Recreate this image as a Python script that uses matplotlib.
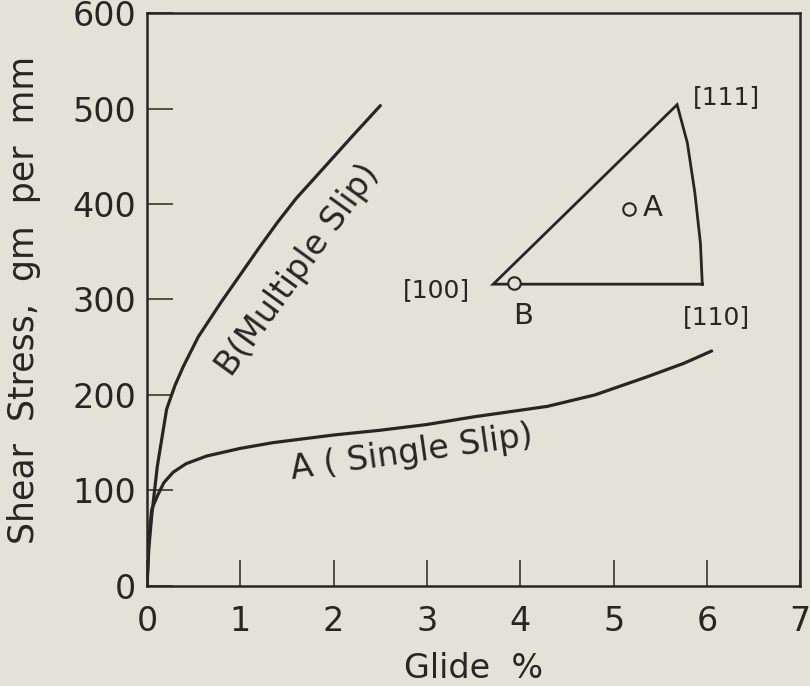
import matplotlib.pyplot as plt

# Stress-strain curves (glide %, shear stress gm/mm)
glide_a = [0.0, 0.02, 0.05, 0.11, 0.18, 0.28, 0.42, 0.64, 1.0, 1.35, 2.0, 2.5, 3.0, 3.5, 4.29, 4.8, 5.36, 5.75, 6.05]
stress_a = [0, 50, 80, 94, 108, 119, 128, 136, 144, 150, 158, 163, 169, 177, 188, 200, 219, 233, 246]

glide_b = [0.0, 0.02, 0.05, 0.11, 0.21, 0.3, 0.39, 0.55, 0.8, 1.0, 1.2, 1.4, 1.6, 1.85, 2.2, 2.5]
stress_b = [0, 40, 73, 125, 185, 210, 230, 261, 298, 326, 354, 381, 406, 433, 471, 503]

# Stereographic triangle inset, drawn in data coordinates
tri_x = [5.95, 3.71, 5.68, 5.79, 5.87, 5.93, 5.95]
tri_y = [316, 316, 504, 464, 412, 359, 316]
orient_x = [5.16, 3.93]
orient_y = [395, 317]
orient_names = ["A", "B"]

xticks = [0, 1, 2, 3, 4, 5, 6, 7]
yticks = [0, 100, 200, 300, 400, 500, 600]

bg = "#e3e2d6"
ink = "#2a2525"

plt.rcParams["font.family"] = ["DejaVu Sans"]

fig = plt.figure(figsize=(8.1, 6.86), dpi=100, facecolor=bg)
ax = fig.add_axes([0.1815, 0.146, 0.988 - 0.1815, 0.981 - 0.146])
ax.set_facecolor(bg)

ax.plot(glide_a, stress_a, color=ink, lw=2.3, solid_capstyle="round", solid_joinstyle="round")
ax.plot(glide_b, stress_b, color=ink, lw=2.3, solid_capstyle="round", solid_joinstyle="round")

ax.plot(tri_x, tri_y, color=ink, lw=2.0, solid_joinstyle="miter")
ax.plot(orient_x, orient_y, "o", ms=9, mfc=bg, mec=ink, mew=1.5)

ax.text(5.42, 396, orient_names[0], fontsize=21, color=ink, ha="center", va="center")
ax.text(4.03, 283, orient_names[1], fontsize=21, color=ink, ha="center", va="center")
ax.text(6.21, 512, "[111]", fontsize=18, color=ink, ha="center", va="center")
ax.text(3.10, 310, "[100]", fontsize=18, color=ink, ha="center", va="center")
ax.text(6.10, 282, "[110]", fontsize=18, color=ink, ha="center", va="center")

ax.text(1.62, 331, "B(Multiple Slip)", fontsize=24, color=ink, rotation=54,
        ha="center", va="center", rotation_mode="anchor")
ax.text(2.84, 140, "A ( Single Slip)", fontsize=24, color=ink, rotation=8,
        ha="center", va="center", rotation_mode="anchor")

ax.set_xlim(0, 7)
ax.set_ylim(0, 600)
ax.set_xticks(xticks)
ax.set_yticks(yticks)
ax.tick_params(direction="in", length=19, width=1.1, color=ink, labelcolor=ink,
               labelsize=24)
ax.tick_params(axis="x", pad=14)
ax.tick_params(axis="y", pad=8)

for side in ax.spines.values():
    side.set_linewidth(1.8)
    side.set_color(ink)

ax.set_xlabel("Glide  %", fontsize=24, color=ink, labelpad=10)
ax.set_ylabel("Shear  Stress,  gm  per  mm", fontsize=25, color=ink, labelpad=22)

fig.savefig("out.png", dpi=100, facecolor=bg)
